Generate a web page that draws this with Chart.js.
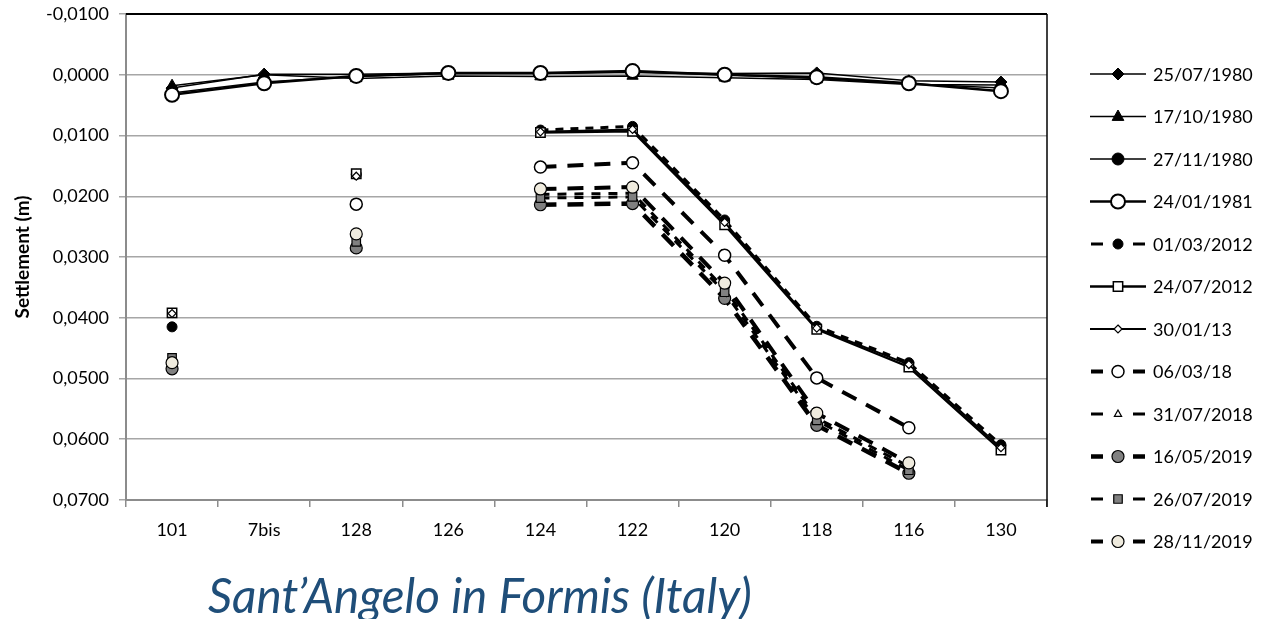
<!DOCTYPE html>
<html>
<head>
<meta charset="utf-8">
<script src="https://cdn.jsdelivr.net/npm/chart.js@4"></script>
<style>
  html, body { margin: 0; padding: 0; background: #fff; }
  #wrap { width: 1264px; height: 619px; position: relative; }
</style>
</head>
<body>
<div id="wrap"><canvas id="myChart" width="1264" height="619"></canvas></div>
<script>
// categories (benchmarks) along the x axis
const categories = ["101", "7bis", "128", "126", "124", "122", "120", "118", "116", "130"];

// settlement values (m)
const s25071980 = [0.0022, -0.0001, -0.0001, -0.0003, -0.0003, -0.0004, -0.0002, -0.0003, 0.0010, 0.0012];
const s17101980 = [0.0018, 0.0000, 0.0006, 0.0002, 0.0003, 0.0002, 0.0005, 0.0008, 0.0016, 0.0017];
const s27111980 = [0.0030, 0.0012, 0.0003, -0.0002, -0.0002, -0.0004, 0.0000, 0.0006, 0.0015, 0.0022];
const s24011981 = [0.0033, 0.0014, 0.0002, -0.0003, -0.0003, -0.0006, 0.0000, 0.0004, 0.0014, 0.0027];
const s01032012 = [0.0415, null, 0.0164, null, 0.0091, 0.0085, 0.0239, 0.0414, 0.0474, 0.0609];
const s24072012 = [0.0392, null, 0.0163, null, 0.0095, 0.0093, 0.0247, 0.0419, 0.0481, 0.0618];
const s30012013 = [0.0393, null, 0.0167, null, 0.0094, 0.0090, 0.0243, 0.0417, 0.0477, 0.0614];
const s06032018 = [null, null, 0.0213, null, 0.0152, 0.0145, 0.0297, 0.0499, 0.0581, null];
const s31072018 = [0.0470, null, 0.0270, null, 0.0197, 0.0195, 0.0352, 0.0565, 0.0645, null];
const s16052019 = [0.0484, null, 0.0285, null, 0.0214, 0.0212, 0.0368, 0.0577, 0.0656, null];
const s26072019 = [0.0466, null, 0.0275, null, 0.0203, 0.0201, 0.0358, 0.0569, 0.0651, null];
const s28112019 = [0.0474, null, 0.0262, null, 0.0188, 0.0185, 0.0343, 0.0557, 0.0639, null];

const seriesLabels = ["25/07/1980", "17/10/1980", "27/11/1980", "24/01/1981", "01/03/2012", "24/07/2012",
  "30/01/13", "06/03/18", "31/07/2018", "16/05/2019", "26/07/2019", "28/11/2019"];
const seriesValues = [s25071980, s17101980, s27111980, s24011981, s01032012, s24072012,
  s30012013, s06032018, s31072018, s16052019, s26072019, s28112019];

const yTicks = { min: -0.01, max: 0.07, step: 0.01 };
const chartTitle = "Sant\u2019Angelo in Formis (Italy)";

// styles per series
const styles = [
  { w: 1.5, dash: [], ps: "rectRot", r: 6, fill: "#000", bw: 1 },
  { w: 1.5, dash: [], ps: "triangle", r: 6.5, fill: "#000", bw: 1 },
  { w: 1.5, dash: [], ps: "circle", r: 6, fill: "#000", bw: 1 },
  { w: 2.5, dash: [], ps: "circle", r: 7, fill: "#fff", bw: 2 },
  { w: 3, dash: [8, 7], ps: "circle", r: 5, fill: "#000", bw: 1 },
  { w: 2.5, dash: [], ps: "rect", r: 5.5, fill: "#fff", bw: 1.5 },
  { w: 2, dash: [], ps: "rectRot", r: 4, fill: "#fff", bw: 1.2 },
  { w: 4, dash: [16, 11], ps: "circle", r: 6, fill: "#fff", bw: 1.5 },
  { w: 3, dash: [9, 8], ps: "triangle", r: 4, fill: "#fff", bw: 1.2 },
  { w: 4.5, dash: [16, 11], ps: "circle", r: 6, fill: "#808080", bw: 1.2 },
  { w: 3, dash: [9, 8], ps: "rect", r: 5, fill: "#808080", bw: 1.2 },
  { w: 4, dash: [16, 11], ps: "circle", r: 6, fill: "#efebde", bw: 1.2 }
];

const fmt = (v) => {
  if (Math.abs(v) < 1e-9) v = 0;
  return v.toFixed(4).replace(".", ",");
};

function drawMarker(ctx, st, x, y) {
  ctx.save();
  ctx.setLineDash([]);
  ctx.fillStyle = st.fill;
  ctx.strokeStyle = "#000";
  ctx.lineWidth = st.bw;
  const r = st.r;
  ctx.beginPath();
  if (st.ps === "circle") {
    ctx.arc(x, y, r, 0, Math.PI * 2);
  } else if (st.ps === "rect") {
    const s = r * 0.85;
    ctx.rect(x - s, y - s, 2 * s, 2 * s);
  } else if (st.ps === "rectRot") {
    ctx.moveTo(x, y - r); ctx.lineTo(x + r, y); ctx.lineTo(x, y + r); ctx.lineTo(x - r, y); ctx.closePath();
  } else if (st.ps === "triangle") {
    ctx.moveTo(x, y - r); ctx.lineTo(x + r * 0.9, y + r * 0.6); ctx.lineTo(x - r * 0.9, y + r * 0.6); ctx.closePath();
  }
  ctx.fill();
  ctx.stroke();
  ctx.restore();
}

const extras = {
  id: "extras",
  afterDraw(chart) {
    const ctx = chart.ctx;
    const a = chart.chartArea;
    ctx.save();
    // plot frame: black top and right edge
    ctx.strokeStyle = "#000";
    ctx.lineWidth = 2;
    ctx.beginPath();
    ctx.moveTo(a.left, a.top); ctx.lineTo(a.right, a.top);
    ctx.stroke();
    ctx.lineWidth = 1.5;
    ctx.beginPath();
    ctx.moveTo(a.right, a.top); ctx.lineTo(a.right, a.bottom + 7);
    ctx.stroke();

    // legend
    ctx.font = "18px Lato";
    ctx.textBaseline = "middle";
    ctx.textAlign = "left";
    seriesLabels.forEach((lab, i) => {
      const st = styles[i];
      const y = 74 + i * 42.5;
      ctx.strokeStyle = "#000";
      ctx.lineWidth = st.w;
      ctx.setLineDash([]);
      ctx.beginPath();
      if (st.dash.length) {
        ctx.moveTo(1091, y); ctx.lineTo(1103, y);
        ctx.moveTo(1133, y); ctx.lineTo(1145, y);
      } else {
        ctx.moveTo(1090, y); ctx.lineTo(1146, y);
      }
      ctx.stroke();
      drawMarker(ctx, st, 1118, y);
      ctx.fillStyle = "#000";
      ctx.fillText(lab, 1153, y + 1);
    });

    // title below the plot
    let size = 36;
    ctx.font = "italic " + size + "px Lato";
    size = size * 544 / ctx.measureText(chartTitle).width;
    ctx.font = "italic " + size + "px Lato";
    ctx.fillStyle = "#1f4e79";
    ctx.textAlign = "left";
    ctx.textBaseline = "middle";
    ctx.fillText(chartTitle, 208, 598);
    ctx.restore();
  }
};

const datasets = seriesLabels.map((lab, i) => {
  const st = styles[i];
  return {
    label: lab,
    data: seriesValues[i],
    borderColor: "#000",
    borderWidth: st.w,
    borderDash: st.dash,
    pointStyle: st.ps,
    pointRadius: st.ps === "rect" ? st.r * 0.85 * Math.SQRT2 : st.r,
    pointBackgroundColor: st.fill,
    pointBorderColor: "#000",
    pointBorderWidth: st.bw,
    spanGaps: false,
    tension: 0,
    fill: false,
    order: seriesLabels.length - i
  };
});

new Chart(document.getElementById("myChart").getContext("2d"), {
  type: "line",
  data: { labels: categories, datasets: datasets },
  options: {
    responsive: false,
    animation: false,
    layout: { padding: { top: 14, right: 217, bottom: 59, left: 0 } },
    plugins: {
      legend: { display: false },
      tooltip: { enabled: false }
    },
    scales: {
      x: {
        offset: true,
        afterFit: (s) => { s.height = 60; s.paddingLeft = 0; s.paddingRight = 0; },
        grid: { display: true, drawOnChartArea: false, drawTicks: true, tickLength: 7, offset: true, color: "#8c8c8c", lineWidth: 1.5 },
        border: { color: "#8c8c8c", width: 2 },
        ticks: { color: "#000", font: { family: "Lato", size: 18 }, padding: 12, maxRotation: 0 }
      },
      y: {
        reverse: true,
        min: yTicks.min,
        max: yTicks.max,
        afterFit: (s) => { s.width = 126; s.paddingTop = 0; s.paddingBottom = 0; },
        afterBuildTicks: (s) => {
          const t = [];
          for (let k = 0; k <= 8; k++) t.push({ value: +(yTicks.min + k * yTicks.step).toFixed(4) });
          s.ticks = t;
        },
        grid: { color: "#a6a6a6", lineWidth: 1.5, tickLength: 7 },
        border: { color: "#8c8c8c", width: 2 },
        ticks: { color: "#000", font: { family: "Lato", size: 18 }, padding: 10, callback: (v) => fmt(v) },
        title: { display: true, text: "Settlement (m)", color: "#000", font: { family: "Lato", size: 19, weight: "bold" }, padding: { top: 11, bottom: 0 } }
      }
    }
  },
  plugins: [extras]
});
</script>
</body>
</html>
